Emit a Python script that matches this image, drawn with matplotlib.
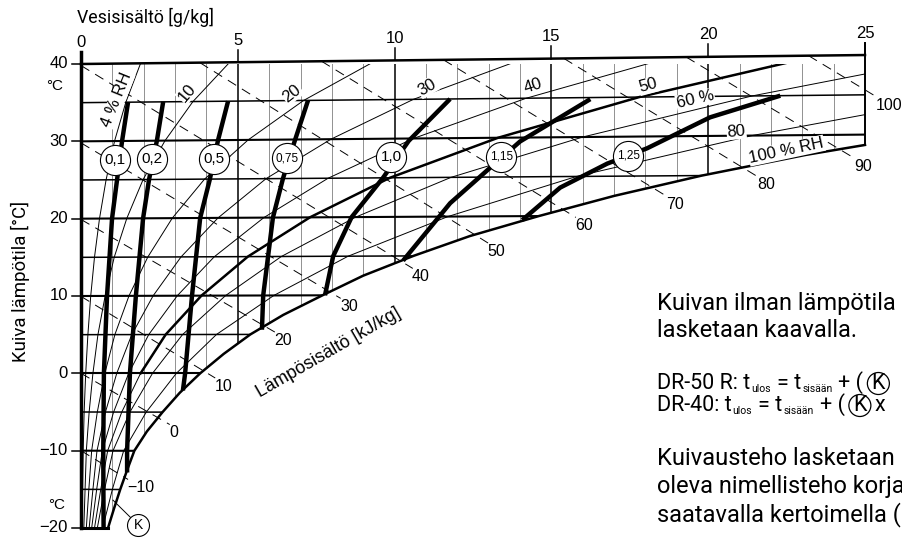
import numpy as np
import matplotlib.pyplot as plt
from matplotlib.patches import Polygon, Circle

plt.rcParams['font.family'] = ['Liberation Sans', 'DejaVu Sans']

# saturation curve (100 % RH): temperature [°C] -> water content [g/kg]
sat_T = [-20, -17.5, -15, -12.5, -10, -7.5, -5, -2.5, 0, 2.5, 5, 7.5, 10,
         12.5, 15, 17.5, 20, 22.5, 25, 27.5, 28.7]
sat_x = [0.86, 1.05, 1.25, 1.47, 1.7, 2.1, 2.6, 3.15, 3.8, 4.55, 5.4, 6.45, 7.7,
         9.0, 10.6, 12.4, 14.6, 17.0, 19.8, 23.1, 25.0]

# relative humidity curves, water content [g/kg] at rh_T
rh_T = [-20, -15, -10, -5, 0, 5, 10, 15, 20, 25, 30, 35, 40]
rh04 = [0.03, 0.05, 0.07, 0.10, 0.15, 0.22, 0.31, 0.43, 0.59, 0.80, 1.07, 1.43, 1.90]
rh10 = [0.09, 0.13, 0.17, 0.26, 0.38, 0.54, 0.77, 1.06, 1.46, 1.98, 2.68, 3.57, 4.74]
rh20 = [0.17, 0.25, 0.34, 0.52, 0.76, 1.08, 1.53, 2.13, 2.91, 3.94, 5.33, 7.10, 9.40]
rh30 = [0.26, 0.38, 0.51, 0.78, 1.14, 1.62, 2.30, 3.19, 4.37, 5.90, 7.97, 10.6, 14.1]
rh40 = [0.34, 0.50, 0.68, 1.04, 1.52, 2.16, 3.07, 4.25, 5.83, 7.88, 10.6, 14.2, 18.8]
rh50 = [0.43, 0.63, 0.85, 1.30, 1.90, 2.70, 3.84, 5.32, 7.30, 9.85, 13.3, 17.8, 23.5]
rh60 = [0.52, 0.75, 1.02, 1.56, 2.28, 3.24, 4.61, 6.39, 8.76, 11.8, 16.0, 21.4, 28.3]
rh80 = [0.69, 1.00, 1.36, 2.08, 3.04, 4.32, 6.15, 8.52, 11.7, 15.8, 21.4, 28.6, 38.4]

# enthalpy lines [kJ/kg]: start on the frame, end just past the saturation curve
h_vals = [-10, 0, 10, 20, 30, 40, 50, 60, 70, 80, 90, 100]
h_x0 = [0, 0, 0, 0, 0, 0, 3.79, 7.67, 11.56, 15.4, 19.3, 23.2]
h_T0 = [-10, 0, 9.95, 19.9, 29.8, 39.8, 40, 40, 40, 40, 40, 40]
h_x1 = [1.50, 2.83, 4.28, 6.18, 8.28, 10.58, 12.98, 15.78, 18.68, 21.58, 24.68, 25.38]
h_T1 = [-13.7, -6.6, -0.6, 5.3, 9.6, 13.4, 16.6, 19.8, 22.4, 24.8, 27.0, 34.7]

# correction factor curves (K)
k_labels = ["0,1", "0,2", "0,5", "0,75", "1,0", "1,15", "1,25"]
k_T = [
    [-20, -10, 0, 10, 20, 25, 30, 35],
    [-12.8, -10, 0, 10, 20, 25, 30, 35],
    [-2.2, 0, 10, 20, 25, 30, 35],
    [5.6, 10, 20, 25, 30, 35],
    [10, 15, 20, 25, 29.7, 35],
    [14.4, 19.7, 21.7, 26.2, 29.5, 34.8],
    [19.5, 23.6, 26.6, 28.5, 32.35, 35.0],
]
k_x = [
    [0.72, 0.71, 0.73, 0.83, 0.99, 1.15, 1.31, 1.50],
    [1.47, 1.47, 1.56, 1.75, 1.98, 2.17, 2.42, 2.62],
    [3.25, 3.32, 3.54, 3.80, 4.11, 4.37, 4.69],
    [5.77, 5.81, 6.12, 6.44, 6.83, 7.24],
    [7.78, 8.04, 8.63, 9.63, 10.45, 11.77],
    [10.27, 11.36, 11.77, 13.05, 14.0, 16.24],
    [14.07, 15.28, 16.78, 18.05, 20.06, 22.3],
]
k_circle_x = [1.08, 2.26, 4.24, 6.57, 9.89, 13.4, 17.45]
K_CIRCLE_T = 27.6

W, H = 903, 538
TILT = 0.00116   # isotherms rise a little towards the right
TICK = 1.6


def sk(x, t):
    return np.asarray(t, float) * (1 + TILT * np.asarray(x, float))


fig = plt.figure(figsize=(W / 100, H / 100), dpi=100)
ax = fig.add_axes([81 / W, 10 / H, 784 / W, 464 / H])
ax.set_xlim(0, 25)
ax.set_ylim(-20, 40)
ax.axis('off')

sx, sT = np.array(sat_x), np.array(sat_T)
edge = [(0, -20), (0, 40), (25, float(sk(25, 40)))] + list(zip(sx[::-1], sk(sx, sT)[::-1]))
region = Polygon(edge, closed=True, fc='none', ec='none', transform=ax.transData)
ax.add_patch(region)


def clipped(x, y, **kw):
    for ln in ax.plot(x, y, **kw):
        ln.set_clip_path(region)


# grid of water content
for gx in range(1, 25):
    major = gx % 5 == 0
    clipped([gx, gx], [-20, float(sk(gx, 40))], color='black' if major else '0.5',
            lw=1.1 if major else 0.6, zorder=1)

# isotherms
for t in range(-15, 40, 5):
    clipped([0, 25], sk([0, 25], t), color='black', lw=1.5 if t % 10 == 0 else 1.1, zorder=2)

# relative humidity
for xs in [rh04, rh10, rh20, rh30, rh40, rh50, rh60, rh80]:
    clipped(xs, sk(xs, rh_T), color='black', lw=0.7, zorder=2)
bold = np.array(rh_T) >= 0
clipped(np.array(rh50)[bold], sk(np.array(rh50)[bold], np.array(rh_T)[bold]),
        color='black', lw=1.8, zorder=2)

# enthalpy
for h, x0, t0, x1, t1 in zip(h_vals, h_x0, h_T0, h_x1, h_T1):
    ax.plot([x0, x1], [sk(x0, t0), sk(x1, t1)], color='black', lw=0.7,
            ls=(0, (10, 7)), zorder=2, clip_on=False)
    ax.annotate(str(h).replace('-', '\u2212'), (x1, sk(x1, t1)), xytext=(-0.5, -0.5),
                textcoords='offset points', ha='left', va='top', fontsize=11.5,
                annotation_clip=False)

# frame and saturation curve
ax.plot(sx, sk(sx, sT), color='black', lw=1.8, zorder=3, clip_on=False)
ax.plot([0, 0], [-20, 40 + TICK], color='black', lw=2.5, zorder=3, clip_on=False)
ax.plot([0, 25], sk([0, 25], 40), color='black', lw=1.8, zorder=3, clip_on=False)
ax.plot([25, 25], [sk(25, sat_T[-1]), sk(25, 40) + TICK], color='black', lw=1.4,
        zorder=3, clip_on=False)
ax.plot([0, sat_x[0]], [-20, -20], color='black', lw=2.2, zorder=3, clip_on=False)

# axis ticks
for tx in range(0, 30, 5):
    top = float(sk(tx, 40))
    ax.plot([tx, tx], [top, top + TICK], color='black', lw=1.1, clip_on=False)
    ax.annotate(str(tx), (tx, top + TICK), xytext=(0, 1.5), textcoords='offset points',
                ha='center', va='bottom', fontsize=12, annotation_clip=False)
for ty in range(-20, 50, 10):
    ax.plot([-0.3, 0], [ty, ty], color='black', lw=1.1, clip_on=False)
    ax.text(-0.42, ty, str(ty).replace('-', '\u2212'), ha='right', va='center', fontsize=12)
ax.text(-0.83, 37.2, "°C", ha='center', va='center', fontsize=11)
ax.text(-0.77, -17.0, "°C", ha='center', va='center', fontsize=11)

# K curves with circled factors
for xs, ts in zip(k_x, k_T):
    ax.plot(xs, sk(xs, ts), color='black', lw=3.2, solid_capstyle='butt', zorder=4)
ax.scatter(k_circle_x, sk(k_circle_x, K_CIRCLE_T), s=470, fc='white', ec='black',
           lw=0.8, zorder=5)
for lab, cx in zip(k_labels, k_circle_x):
    ax.text(cx, sk(cx, K_CIRCLE_T), lab, ha='center', va='center', zorder=6,
            fontsize=8.5 if len(lab) > 3 else 11)

ax.plot([1.02, 1.82], [-16.4, -19.6], color='black', lw=0.7, zorder=4, clip_on=False)
ax.scatter([1.82], [-19.6], s=250, fc='white', ec='black', lw=0.8, zorder=5, clip_on=False)
ax.text(1.82, -19.6, "K", ha='center', va='center', fontsize=10, zorder=6)

# curve labels
white = dict(fc='white', ec='none', pad=0.5)
rh_text = [("4 % RH", 1.15, 35.4, 68), ("10", 3.38, 36.3, 50), ("20", 6.73, 36.2, 38),
           ("30", 11.04, 37.0, 30), ("40", 14.42, 37.2, 18), ("50", 18.09, 37.2, 15),
           ("60 %", 19.59, 35.4, 13), ("80", 20.9, 31.3, 5), ("100 % RH", 22.5, 28.8, 12)]
for s, x, y, r in rh_text:
    ax.text(x, y, s, rotation=r, ha='center', va='center', fontsize=12,
            bbox=white, zorder=6, rotation_mode='anchor')
ax.text(7.88, 2.63, "Lämpösisältö [kJ/kg]", rotation=30, ha='center', va='center',
        fontsize=13, rotation_mode='anchor')

# axis titles
fig.text(77 / W, 1 - 17 / H, "Vesisisältö [g/kg]", ha='left', va='center',
         fontsize=12.8, family='Roboto')
fig.text(20 / W, 1 - 281 / H, "Kuiva lämpötila [°C]", rotation=90, ha='center',
         va='center', fontsize=13.4, family='Roboto')

# explanation on the right
renderer = fig.canvas.get_renderer()
PX = 657
for s, base in [("Kuivan ilman lämpötila", 310), ("lasketaan kaavalla.", 337),
                ("Kuivausteho lasketaan", 465), ("oleva nimellisteho korja", 493),
                ("saatavalla kertoimella (", 521)]:
    fig.text(PX / W, 1 - base / H, s, fontsize=17.0, family='Roboto', va='baseline')


def chain(pieces, base):
    x = PX
    for s, size, drop, gap in pieces:
        t = fig.text(x / W, 1 - (base + drop) / H, s, fontsize=size, family='Roboto',
                     va='baseline')
        x = t.get_window_extent(renderer).x1 + gap
    return x


for lead, base, tail in [("DR-50 R: t", 389, ""), ("DR-40: t", 411, "x")]:
    x = chain([(lead, 15.5, 0, 1), ("ulos", 7.5, 3, 6), ("= t", 15.5, 0, 1),
               ("sisään", 7.5, 3, 6), ("+ (", 15.5, 0, 4)], base)
    fig.text((x + 11) / W, 1 - base / H, "K", fontsize=15.5, family='Roboto',
             va='baseline', ha='center')
    fig.add_artist(Circle(((x + 11) / 100, (H - base + 5.5) / 100), 0.11,
                          transform=fig.dpi_scale_trans, fill=False, lw=0.9))
    if tail:
        fig.text((x + 26) / W, 1 - base / H, tail, fontsize=15.5, family='Roboto',
                 va='baseline')

fig.savefig("out.png", dpi=100)
